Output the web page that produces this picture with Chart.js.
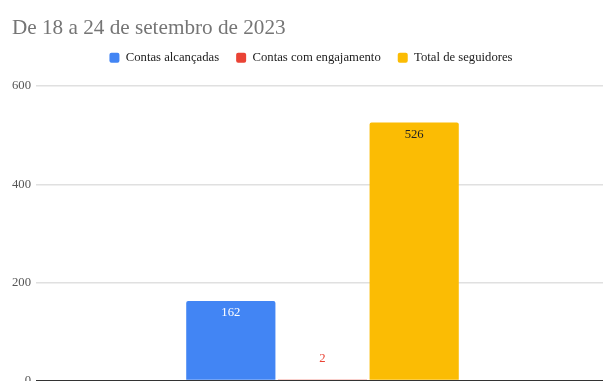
<!DOCTYPE html>
<html>
<head>
<meta charset="utf-8">
<script src="https://cdn.jsdelivr.net/npm/chart.js@4"></script>
<style>
    html, body { margin: 0; padding: 0; background: #fff; overflow: hidden; }
    #wrap { width: 603px; height: 381px; overflow: hidden; position: relative; }
    #box { width: 609px; height: 400px; position: absolute; left: 0; top: 0; }
</style>
</head>
<body>
<div id="wrap"><div id="box"><canvas id="chart"></canvas></div></div>
<script>
// Data
const categories = [''];
const seriesNames = ['Contas alcançadas', 'Contas com engajamento', 'Total de seguidores'];
const seriesValues = [[162], [2], [526]];
const seriesColors = ['#4285F4', '#EA4335', '#FBBC04'];
const labelColors = ['#ffffff', '#EA4335', '#222222'];
const yTicks = [0, 200, 400, 600];

const serif = '"Liberation Serif", "DejaVu Serif", serif';

// Push legend down a bit and nudge it sideways
const legendTweak = {
    id: 'legendTweak',
    beforeInit(chart) {
        const fit = chart.legend.fit;
        chart.legend.fit = function () {
            fit.bind(chart.legend)();
            this.height += 12;
        };
    },
    afterLayout(chart) {
        chart.legend.left += 0.5;
        chart.legend.right += 0.5;
    }
};

// Value labels on the bars
const barLabels = {
    id: 'barLabels',
    afterDatasetsDraw(chart) {
        const ctx = chart.ctx;
        ctx.save();
        ctx.font = '12.7px ' + serif;
        ctx.textAlign = 'center';
        ctx.textBaseline = 'middle';
        chart.data.datasets.forEach((ds, i) => {
            chart.getDatasetMeta(i).data.forEach((bar, j) => {
                const v = ds.data[j];
                const h = bar.base - bar.y;
                ctx.fillStyle = labelColors[i];
                if (h > 24) {
                    ctx.fillText(v, bar.x, bar.y + 12);
                } else {
                    ctx.fillText(v, bar.x, bar.y - 21);
                }
            });
        });
        ctx.restore();
    }
};

new Chart(document.getElementById('chart'), {
    type: 'bar',
    data: {
        labels: categories,
        datasets: seriesNames.map((name, i) => ({
            label: name,
            data: seriesValues[i],
            backgroundColor: seriesColors[i],
            borderRadius: 2,
            borderSkipped: 'bottom',
            categoryPercentage: 0.48,
            barPercentage: 0.973
        }))
    },
    options: {
        responsive: true,
        maintainAspectRatio: false,
        animation: false,
        layout: { padding: { left: 12, right: 0, top: 0, bottom: 19.5 } },
        plugins: {
            title: {
                display: true,
                text: 'De 18 a 24 de setembro de 2023',
                align: 'start',
                color: '#757575',
                font: { family: serif, size: 21.2, weight: 'normal' },
                padding: { top: 16, bottom: -7 }
            },
            legend: {
                display: true,
                position: 'top',
                labels: {
                    color: '#222222',
                    font: { family: serif, size: 12.7 },
                    boxWidth: 10,
                    boxHeight: 10,
                    useBorderRadius: true,
                    borderRadius: 2,
                    padding: 17
                }
            },
            tooltip: { enabled: false }
        },
        scales: {
            x: { display: false },
            y: {
                min: yTicks[0],
                max: yTicks[yTicks.length - 1],
                afterBuildTicks(axis) {
                    axis.ticks = yTicks.map(v => ({ value: v }));
                },
                afterFit(axis) {
                    axis.width = 24;
                },
                border: { display: false },
                grid: {
                    drawTicks: false,
                    color: ctx => ctx.tick && ctx.tick.value === 0 ? '#333333' : '#e0e0e0',
                    lineWidth: 1.5
                },
                ticks: {
                    padding: 5,
                    color: '#555555',
                    font: { family: serif, size: 12.7 }
                }
            }
        }
    },
    plugins: [legendTweak, barLabels]
});
</script>
</body>
</html>
